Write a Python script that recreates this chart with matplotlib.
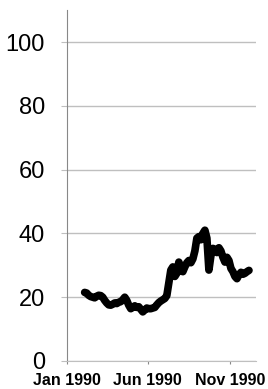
import numpy as np
import pandas as pd
import matplotlib
matplotlib.use("Agg")
import matplotlib.pyplot as plt
import matplotlib.dates as mdates

plt.rcParams['font.family'] = ['Liberation Sans', 'DejaVu Sans']

# price series (Feb - early Dec 1990)
prices = [21.5, 21.3, 20.6, 20.2, 20.0, 19.8, 20.3, 20.6, 20.5, 20.0,
          19.0, 18.2, 17.6, 17.5, 17.8, 18.2, 18.0, 18.4, 18.6, 19.2,
          20.0, 19.0, 17.5, 16.4, 16.8, 17.3, 16.8, 17.0, 16.2, 15.4,
          16.0, 16.6, 16.4, 16.4, 16.6, 16.8, 17.6, 18.3, 18.8, 19.2,
          19.6, 20.5, 24.5, 28.5, 29.5, 26.5, 27.5, 31.0, 29.5, 28.0,
          29.5, 30.8, 31.5, 30.8, 32.0, 34.5, 38.5, 39.0, 38.0, 40.0,
          41.0, 38.5, 28.5, 33.0, 35.3, 35.0, 34.0, 35.5, 34.5, 32.5,
          31.0, 32.5, 31.5, 29.0, 28.0, 26.5, 25.8, 27.0, 27.8, 27.2,
          27.5, 28.0, 28.4]
dates = pd.date_range('1990-02-03', '1990-12-07', periods=len(prices))

tick_dates = pd.to_datetime(['1990-01-01', '1990-06-01', '1990-11-01'])
tick_labels = ['Jan 1990', 'Jun 1990', 'Nov 1990']
y_ticks = [0, 20, 40, 60, 80, 100]

fig = plt.figure(figsize=(2.68, 3.89), dpi=100)
ax = fig.add_axes([0.25, 0.072, 0.705, 0.902])

ax.plot(dates, prices, color='black', linewidth=5.5,
        solid_joinstyle='round', solid_capstyle='round')

ax.set_xlim(pd.Timestamp('1990-01-01'), pd.Timestamp('1990-12-20'))
ax.set_ylim(0, 110)

ax.set_yticks(y_ticks)
ax.set_yticklabels([str(v) for v in y_ticks], fontsize=17)
ax.set_xticks(tick_dates)
ax.set_xticklabels(tick_labels, fontsize=11.5, fontweight='bold')

ax.grid(axis='y', color='#bfbfbf', linewidth=1)
ax.set_axisbelow(True)

for side in ['top', 'right']:
    ax.spines[side].set_visible(False)
ax.spines['left'].set_color('#888888')
ax.spines['bottom'].set_color('#bfbfbf')
ax.tick_params(axis='y', length=4.3, color='#bfbfbf', pad=11.5)
ax.tick_params(axis='x', length=2.5, color='#888888', pad=6)

fig.savefig('out.png', dpi=100)
